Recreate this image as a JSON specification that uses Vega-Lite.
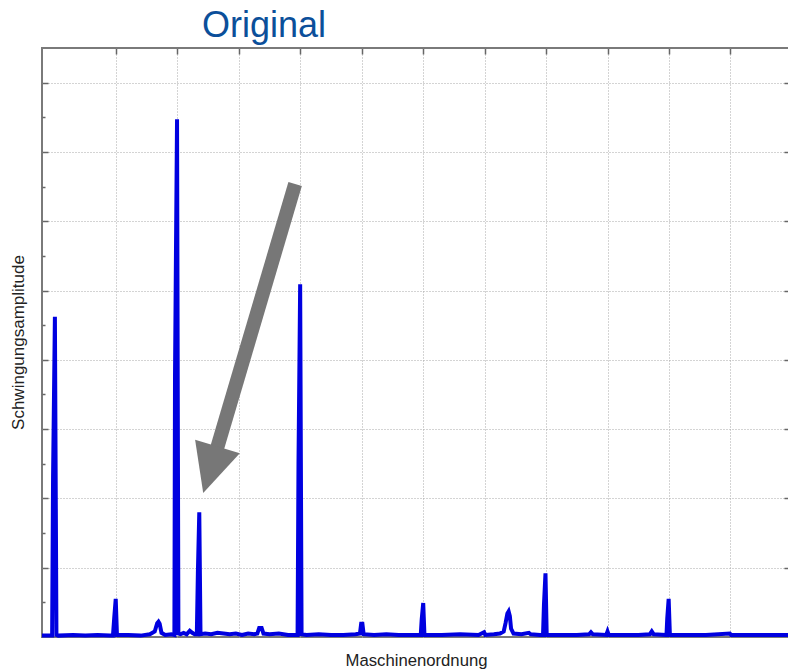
{
  "$schema": "https://vega.github.io/schema/vega-lite/v6.json",
  "autosize": "none",
  "padding": {"left": 42, "top": 48, "right": 0, "bottom": 34},
  "width": 748,
  "height": 589,
  "background": "white",
  "title": {"text": "Original", "fontSize": 36, "font": "Liberation Sans", "fontWeight": "normal", "color": "#0b4f9a", "anchor": "start", "frame": "group", "dx": 160, "dy": 37, "offset": 11, "baseline": "alphabetic"},
  "config": {"view": {"stroke": "#7a7a7a", "strokeWidth": 2}},
  "resolve": {"axis": {"y": "independent"}},
  "datasets": {
    "spectrum": [
      {"order": -0.205, "amp": 0.02}, {"order": -0.06, "amp": 0.02}, {"order": -0.04, "amp": 0.02}, {"order": -0.025, "amp": 2.31}, {"order": 0.005, "amp": 4.62}, {"order": 0.03, "amp": 0.03}, {"order": 0.06, "amp": 0.02},
      {"order": 0.3, "amp": 0.03}, {"order": 0.5, "amp": 0.02}, {"order": 0.7, "amp": 0.03}, {"order": 0.9, "amp": 0.02}, {"order": 0.95, "amp": 0.02}, {"order": 0.97, "amp": 0.27}, {"order": 0.995, "amp": 0.55}, {"order": 1.015, "amp": 0.03},
      {"order": 1.2, "amp": 0.03}, {"order": 1.4, "amp": 0.02}, {"order": 1.55, "amp": 0.04}, {"order": 1.63, "amp": 0.08}, {"order": 1.67, "amp": 0.2}, {"order": 1.69, "amp": 0.22}, {"order": 1.71, "amp": 0.19}, {"order": 1.74, "amp": 0.06}, {"order": 1.8, "amp": 0.03}, {"order": 1.9, "amp": 0.04}, {"order": 1.95, "amp": 0.03},
      {"order": 1.96, "amp": 3.78}, {"order": 1.976, "amp": 5.61}, {"order": 1.993, "amp": 7.47}, {"order": 2.015, "amp": 0.05}, {"order": 2.05, "amp": 0.04}, {"order": 2.1, "amp": 0.06}, {"order": 2.15, "amp": 0.04}, {"order": 2.2, "amp": 0.09}, {"order": 2.24, "amp": 0.06}, {"order": 2.28, "amp": 0.04},
      {"order": 2.315, "amp": 0.04}, {"order": 2.332, "amp": 0.92}, {"order": 2.355, "amp": 1.8}, {"order": 2.375, "amp": 0.04},
      {"order": 2.45, "amp": 0.05}, {"order": 2.55, "amp": 0.04}, {"order": 2.65, "amp": 0.06}, {"order": 2.75, "amp": 0.05}, {"order": 2.85, "amp": 0.04}, {"order": 2.95, "amp": 0.05}, {"order": 3.05, "amp": 0.03}, {"order": 3.15, "amp": 0.05}, {"order": 3.25, "amp": 0.04}, {"order": 3.3, "amp": 0.05}, {"order": 3.33, "amp": 0.13}, {"order": 3.37, "amp": 0.13}, {"order": 3.4, "amp": 0.05}, {"order": 3.5, "amp": 0.04}, {"order": 3.65, "amp": 0.05}, {"order": 3.8, "amp": 0.03}, {"order": 3.955, "amp": 0.03},
      {"order": 3.97, "amp": 2.53}, {"order": 3.997, "amp": 5.09}, {"order": 4.02, "amp": 0.04}, {"order": 4.1, "amp": 0.03}, {"order": 4.3, "amp": 0.04}, {"order": 4.5, "amp": 0.03}, {"order": 4.7, "amp": 0.03}, {"order": 4.9, "amp": 0.04}, {"order": 4.97, "amp": 0.05}, {"order": 4.99, "amp": 0.19}, {"order": 5.01, "amp": 0.19}, {"order": 5.03, "amp": 0.04},
      {"order": 5.2, "amp": 0.03}, {"order": 5.4, "amp": 0.04}, {"order": 5.6, "amp": 0.03}, {"order": 5.8, "amp": 0.03}, {"order": 5.96, "amp": 0.03}, {"order": 5.975, "amp": 0.25}, {"order": 6.0, "amp": 0.49}, {"order": 6.02, "amp": 0.03},
      {"order": 6.3, "amp": 0.03}, {"order": 6.6, "amp": 0.04}, {"order": 6.9, "amp": 0.03}, {"order": 6.99, "amp": 0.07}, {"order": 7.01, "amp": 0.03}, {"order": 7.15, "amp": 0.04}, {"order": 7.25, "amp": 0.05}, {"order": 7.31, "amp": 0.08}, {"order": 7.34, "amp": 0.2}, {"order": 7.37, "amp": 0.34}, {"order": 7.39, "amp": 0.37}, {"order": 7.41, "amp": 0.3}, {"order": 7.43, "amp": 0.12}, {"order": 7.47, "amp": 0.05}, {"order": 7.6, "amp": 0.04}, {"order": 7.72, "amp": 0.06}, {"order": 7.75, "amp": 0.04}, {"order": 7.9, "amp": 0.03},
      {"order": 7.95, "amp": 0.03}, {"order": 7.965, "amp": 0.46}, {"order": 7.99, "amp": 0.92}, {"order": 8.01, "amp": 0.03},
      {"order": 8.3, "amp": 0.03}, {"order": 8.5, "amp": 0.03}, {"order": 8.7, "amp": 0.04}, {"order": 8.73, "amp": 0.07}, {"order": 8.76, "amp": 0.04}, {"order": 8.98, "amp": 0.03}, {"order": 9.0, "amp": 0.08}, {"order": 9.02, "amp": 0.03}, {"order": 9.3, "amp": 0.03}, {"order": 9.5, "amp": 0.03}, {"order": 9.69, "amp": 0.04}, {"order": 9.72, "amp": 0.08}, {"order": 9.75, "amp": 0.04}, {"order": 9.95, "amp": 0.03},
      {"order": 9.96, "amp": 0.03}, {"order": 9.972, "amp": 0.27}, {"order": 9.995, "amp": 0.55}, {"order": 10.015, "amp": 0.03},
      {"order": 10.3, "amp": 0.03}, {"order": 10.6, "amp": 0.03}, {"order": 10.99, "amp": 0.05}, {"order": 11.01, "amp": 0.03}, {"order": 11.5, "amp": 0.03}, {"order": 11.97, "amp": 0.03}
    ],
    "arrowShaft": [{"order": 3.915, "amp": 6.537, "order2": 2.612, "amp2": 2.626}],
    "arrowHead": [{"order": 2.535, "amp": 2.413}]
  },
  "layer": [
    {
      "data": {"name": "spectrum"},
      "mark": {"type": "line", "color": "#0000e0", "strokeWidth": 4, "strokeJoin": "miter", "interpolate": "linear"},
      "encoding": {
        "x": {
          "field": "order", "type": "quantitative",
          "scale": {"domain": [-0.205, 11.97], "nice": false, "zero": false},
          "axis": {
            "orient": "top", "values": [1, 2, 3, 4, 5, 6, 7, 8, 9, 10, 11],
            "labels": false, "domain": false, "ticks": true, "tickSize": -6, "tickColor": "#666666", "tickWidth": 1.5,
            "grid": true, "gridDash": [1, 2], "gridColor": "#a8a8a8", "gridWidth": 1,
            "title": "Maschinenordnung", "titleX": 374, "titleY": 617, "titleBaseline": "alphabetic", "titleAlign": "center",
            "titleFont": "Liberation Sans", "titleFontSize": 16.7, "titleFontWeight": "normal", "titleColor": "#222222"
          }
        },
        "y": {
          "field": "amp", "type": "quantitative",
          "scale": {"domain": [0, 8.5], "nice": false},
          "axis": {
            "orient": "left", "values": [1, 2, 3, 4, 5, 6, 7, 8],
            "labels": false, "domain": false, "ticks": true, "tickSize": -6,
            "tickColor": "#666666", "tickWidth": 1.5,
            "grid": true, "gridDash": [1, 2], "gridColor": "#a8a8a8", "gridWidth": 1,
            "title": "Schwingungsamplitude", "titleX": -18.6, "titleY": 294, "titleAngle": -90, "titleBaseline": "alphabetic", "titleAlign": "center",
            "titleFont": "Liberation Sans", "titleFontSize": 17, "titleFontWeight": "normal", "titleColor": "#222222"
          }
        }
      }
    },
    {
      "data": {"name": "arrowShaft"},
      "mark": {"type": "rule", "color": "#777777", "strokeWidth": 14, "strokeCap": "butt"},
      "encoding": {
        "x": {"field": "order", "type": "quantitative"},
        "y": {
          "field": "amp", "type": "quantitative",
          "axis": {"orient": "left", "values": [0.5, 1.5, 2.5, 3.5, 4.5, 5.5, 6.5, 7.5], "labels": false, "domain": false, "grid": false, "ticks": true, "tickSize": -3, "tickColor": "#666666", "tickWidth": 1.5, "title": null, "offset": 0}
        },
        "x2": {"field": "order2"},
        "y2": {"field": "amp2"}
      }
    },
    {
      "data": {"name": "arrowHead"},
      "mark": {"type": "point", "shape": "M-0.96,-1L0.96,-1L0,1Z", "size": 2372, "angle": 17, "filled": true, "color": "#777777", "opacity": 1, "strokeWidth": 0},
      "encoding": {
        "x": {"field": "order", "type": "quantitative"},
        "y": {
          "field": "amp", "type": "quantitative",
          "axis": {"orient": "right", "values": [1, 2, 3, 4, 5, 6, 7, 8], "labels": false, "domain": false, "grid": false, "ticks": true, "tickSize": -6, "tickColor": "#666666", "tickWidth": 1.5, "title": null, "offset": 0}
        }
      }
    }
  ]
}
